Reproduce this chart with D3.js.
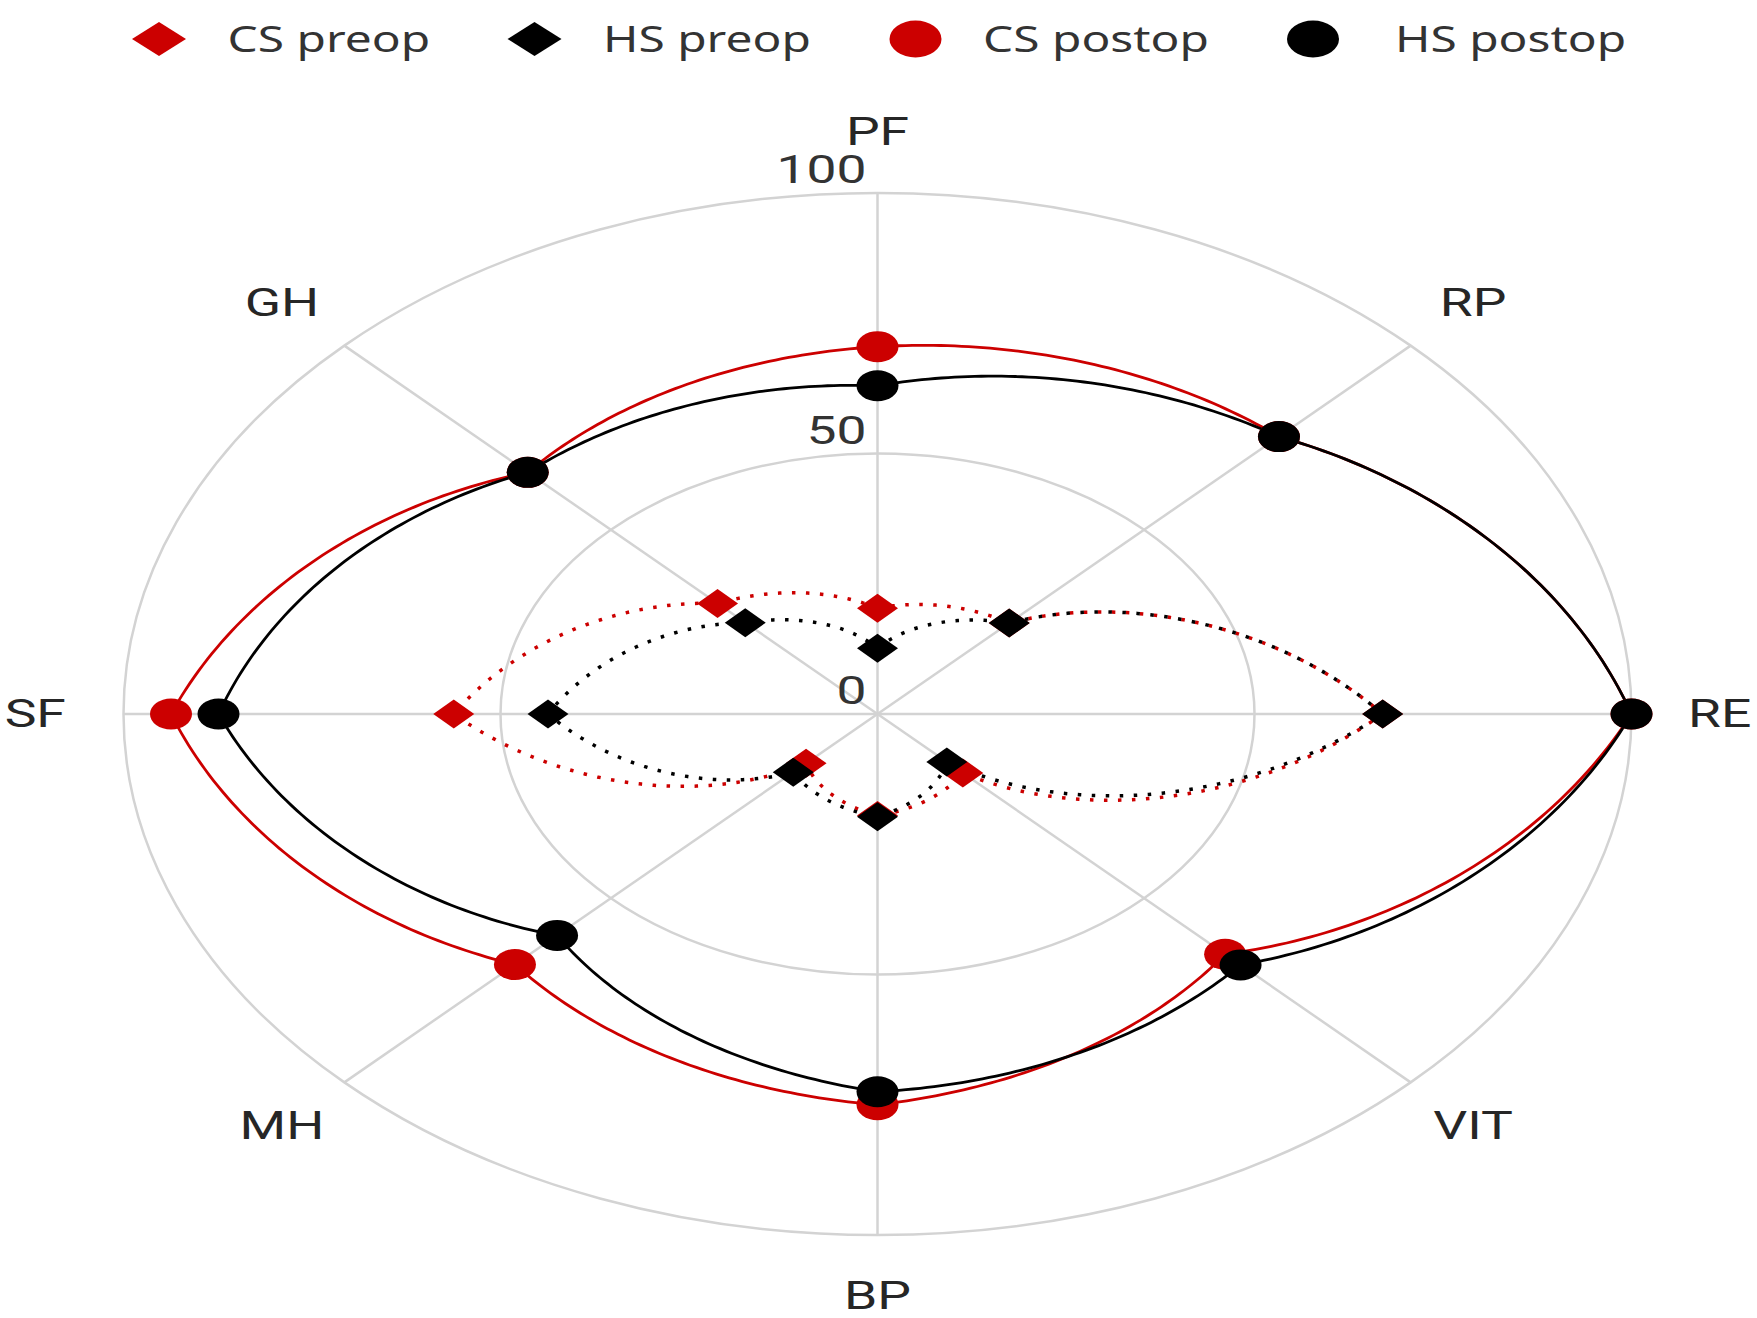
<!DOCTYPE html>
<html>
<head>
<meta charset="utf-8">
<script src="https://cdn.jsdelivr.net/npm/d3@7"></script>
<style>
  html, body { margin: 0; padding: 0; background: #ffffff; }
  svg { display: block; }
</style>
</head>
<body>
<script>
// ---------- data ----------
const categories = ["PF", "RP", "RE", "VIT", "BP", "MH", "SF", "GH"];
const csPreop  = [20.3, 24.7, 67.0, 16.0, 19.5, 13.4, 56.2, 30.0];
const hsPreop  = [12.6, 24.7, 67.0, 13.0, 19.7, 15.8, 43.7, 24.8];
const csPostop = [70.5, 75.3, 100.0, 65.2, 75.0, 68.0, 93.7, 65.6];
const hsPostop = [63.0, 75.3, 100.0, 68.1, 72.5, 60.1, 87.4, 65.6];
const seriesNames = ["CS preop", "HS preop", "CS postop", "HS postop"];
const radialTicks = [0, 50, 100];

// ---------- layout ----------
const W = 1757, H = 1318;
const cx = 877.5, cy = 714;
const RX = 754, RY = 521;
const TX = 1.37;  // horizontal text stretch (axis)
const TXL = 1.33; // horizontal text stretch (legend)
const RED = "#cc0000", BLACK = "#000000", GRID = "#d3d3d3";

const svg = d3.select("body").append("svg").attr("width", W).attr("height", H);

const rX = d3.scaleLinear().domain([0, 100]).range([0, RX]);
const rY = d3.scaleLinear().domain([0, 100]).range([0, RY]);
const ang = d3.scaleLinear().domain([0, categories.length]).range([0, 2 * Math.PI]);

const px = (i, v) => cx + rX(v) * Math.sin(ang(i));
const py = (i, v) => cy - rY(v) * Math.cos(ang(i));

// ---------- grid ----------
const grid = svg.append("g");
radialTicks.filter(t => t > 0).forEach(t => {
  grid.append("ellipse").attr("cx", cx).attr("cy", cy)
    .attr("rx", rX(t)).attr("ry", rY(t))
    .attr("fill", "none").attr("stroke", GRID).attr("stroke-width", 2.5);
});
categories.forEach((c, i) => {
  grid.append("line")
    .attr("x1", cx).attr("y1", cy)
    .attr("x2", px(i, 100)).attr("y2", py(i, 100))
    .attr("stroke", GRID).attr("stroke-width", 2.5);
});

// radial tick labels
radialTicks.forEach(t => {
  svg.append("text")
    .attr("transform", `translate(${cx - 11},${cy - rY(t) - 10}) scale(${TX},1)`)
    .attr("text-anchor", "end")
    .attr("font-family", "Roboto, 'Liberation Sans', sans-serif")
    .attr("font-size", 39)
    .attr("fill", "#333333")
    .text(t);
});

// category labels
categories.forEach((c, i) => {
  const lr = 111.7;
  svg.append("text")
    .attr("transform", `translate(${px(i, lr)},${py(i, lr)}) scale(${TX},1)`)
    .attr("text-anchor", "middle")
    .attr("dominant-baseline", "central")
    .attr("font-family", "Roboto, 'Liberation Sans', sans-serif")
    .attr("font-size", 39)
    .attr("fill", "#262626")
    .text(c);
});

// ---------- series ----------
function pathPoints(vals) {
  const pts = [];
  const n = vals.length;
  const steps = 60;
  for (let i = 0; i < n; i++) {
    const v0 = vals[i], v1 = vals[(i + 1) % n];
    for (let s = 0; s < steps; s++) {
      const t = s / steps;
      const a = i + t;
      const v = v0 + (v1 - v0) * t;
      pts.push([cx + rX(v) * Math.sin(ang(a)), cy - rY(v) * Math.cos(ang(a))]);
    }
  }
  pts.push(pts[0]);
  return pts;
}
const line = d3.line();

function diamond(g, x, y, hw, hh, color) {
  g.append("path")
    .attr("d", `M${x},${y - hh}L${x + hw},${y}L${x},${y + hh}L${x - hw},${y}Z`)
    .attr("fill", color);
}

const series = [
  { vals: csPreop, color: RED, dotted: true, shape: "diamond" },
  { vals: hsPreop, color: BLACK, dotted: true, shape: "diamond" },
  { vals: csPostop, color: RED, dotted: false, shape: "circle" },
  { vals: hsPostop, color: BLACK, dotted: false, shape: "circle" }
];

const lineLayer = svg.append("g");
const pointLayer = svg.append("g");
series.forEach(s => {
  const p = lineLayer.append("path")
    .attr("d", line(pathPoints(s.vals)))
    .attr("fill", "none")
    .attr("stroke", s.color);
  if (s.dotted) {
    p.attr("stroke-width", 3.5).attr("stroke-dasharray", "3.5 10.5");
  } else {
    p.attr("stroke-width", 2.8);
  }
});
series.forEach(s => {
  s.vals.forEach((v, i) => {
    const x = px(i, v), y = py(i, v);
    if (s.shape === "diamond") diamond(pointLayer, x, y, 20.5, 14.5, s.color);
    else pointLayer.append("ellipse").attr("cx", x).attr("cy", y)
      .attr("rx", 21).attr("ry", 15.5).attr("fill", s.color);
  });
});

// ---------- legend ----------
const legendX = [159, 534.5, 915.5, 1313];
const legendTextX = [227.5, 603, 983, 1395];
const legendY = 39;
const leg = svg.append("g");
series.forEach((s, i) => {
  if (s.shape === "diamond") diamond(leg, legendX[i], legendY, 27, 17, s.color);
  else leg.append("ellipse").attr("cx", legendX[i]).attr("cy", legendY)
    .attr("rx", 26).attr("ry", 18.5).attr("fill", s.color);
  leg.append("text")
    .attr("transform", `translate(${legendTextX[i]},${legendY + 12.5}) scale(${TXL},1)`)
    .attr("font-family", "'Noto Sans', 'Open Sans', sans-serif")
    .attr("font-size", 36)
    .attr("fill", "#333333")
    .text(seriesNames[i]);
});
</script>
</body>
</html>
